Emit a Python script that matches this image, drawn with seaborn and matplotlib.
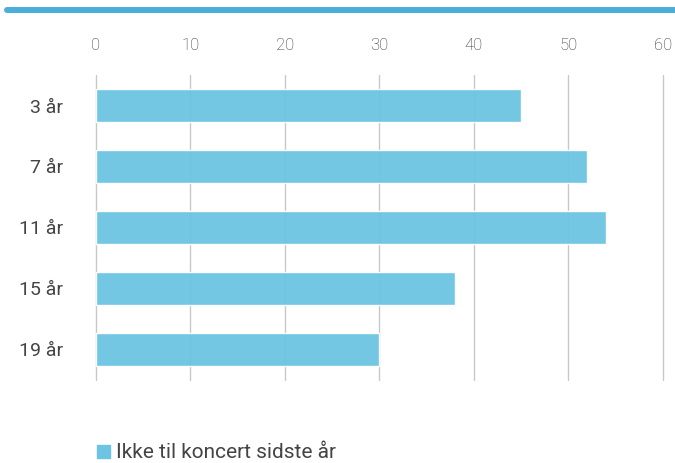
import seaborn as sns
import matplotlib.pyplot as plt
import matplotlib.patches as mpatches
import pandas as pd

# Data
ages = ["3 år", "7 år", "11 år", "15 år", "19 år"]
values = [45, 52, 54, 38, 30]
series_name = "Ikke til koncert sidste år"
x_ticks = [0, 10, 20, 30, 40, 50, 60]

bar_color = "#6cc4e2"

df = pd.DataFrame({"Alder": ages, "Procent": values})

sns.set_style("white")
plt.rcParams["font.family"] = ["Roboto", "DejaVu Sans"]

fig = plt.figure(figsize=(6.75, 4.63), dpi=100)
ax = fig.add_axes([0.1422, 0.1793, 0.84, 0.6587])

sns.barplot(data=df, x="Procent", y="Alder", orient="h", color=bar_color,
            saturation=1, width=0.54, alpha=0.95, ax=ax, zorder=1)

ax.set_xlim(0, 60)
ax.set_ylim(4.5, -0.5)
ax.set_xticks(x_ticks)
ax.xaxis.tick_top()
ax.tick_params(axis="x", length=0, pad=15.5, labelsize=12, labelcolor="#333333")
ax.tick_params(axis="y", length=0, pad=24, labelsize=14, labelcolor="#444444")
for lbl in ax.get_xticklabels():
    lbl.set_fontweight("light")
ax.set_xlabel("")
ax.set_ylabel("")
ax.grid(axis="x", color="#c8c8c8", linewidth=1)
for gl in ax.get_xgridlines():
    gl.set_zorder(0.5)
    gl.set_clip_on(False)
sns.despine(ax=ax, left=True, bottom=True, top=True, right=True)

# Top accent line
fig.add_artist(plt.Line2D([7 / 675, 1], [1 - 10 / 463, 1 - 10 / 463],
                          color="#4aaed9", linewidth=4.3, transform=fig.transFigure))

# Legend
handle = mpatches.Patch(color=bar_color, label=series_name)
fig.legend(handles=[handle], loc="center left", bbox_to_anchor=(97 / 675, 1 - 453 / 463),
           frameon=False, fontsize=15, handlelength=0.6, handleheight=0.6,
           handletextpad=0.3, borderaxespad=0, borderpad=0, labelcolor="#444444")

fig.savefig("out.png", dpi=100)
